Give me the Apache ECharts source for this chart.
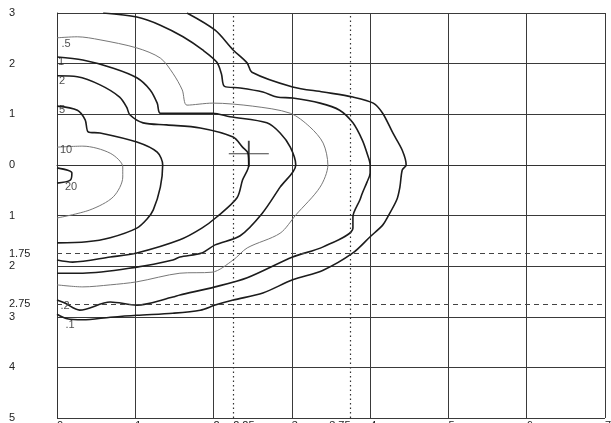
<!DOCTYPE html>
<html><head><meta charset="utf-8">
<script src="https://cdn.jsdelivr.net/npm/echarts@6/dist/echarts.min.js"></script>
<style>html,body{margin:0;padding:0;background:#fff}#c{width:611px;height:423px}</style>
</head><body><div id="c"></div>
<script>
// tick labels
const xTickLabels = [0, 1, 2, 2.25, 3, 4, 5, 6, 7];
const xTickLabelsRight = [3.75];
const yTickLabels = [3, 2, 1, 0, -1, -1.75, -2, -2.75, -3, -4, -5];
// reference lines
const refX = [2.25, 3.75];
const refY = [-1.75, -2.75];
// marked point (cross)
const crossPoint = [2.45, 0.22];

// contour levels
const levelNames = ['.1', '.2', '.5', '1', '2', '5', '10', '20'];
const c_01 = [[1.66,3.0],[2.02,2.66],[2.25,2.27],[2.43,2.01],[2.49,1.83],[3.01,1.54],[3.40,1.44],[3.78,1.34],[4.04,1.22],[4.16,1.02],[4.29,0.63],[4.41,0.29],[4.46,0],[4.41,-0.10],[4.38,-0.44],[4.34,-0.69],[4.22,-1.04],[4.16,-1.19],[4.00,-1.42],[3.78,-1.74],[3.40,-2.08],[3.01,-2.27],[2.63,-2.53],[2.25,-2.67],[2.02,-2.77],[1.83,-2.87],[1.48,-2.93],[1.02,-2.97],[0.68,-3.01],[0.33,-3.06],[0.13,-3.04],[0,-2.95]];
const c_02 = [[0.59,3.0],[1.02,2.92],[1.32,2.76],[1.61,2.53],[1.86,2.27],[2.04,2.03],[2.10,1.80],[2.14,1.55],[2.34,1.52],[2.63,1.44],[2.81,1.34],[3.01,1.32],[3.36,1.22],[3.61,1.08],[3.78,0.83],[3.90,0.49],[3.96,0.23],[4.00,0],[4.00,-0.16],[3.96,-0.34],[3.90,-0.56],[3.87,-0.69],[3.78,-1.03],[3.78,-1.25],[3.40,-1.62],[3.01,-1.82],[2.43,-2.23],[2.02,-2.41],[1.57,-2.57],[1.48,-2.61],[1.02,-2.77],[0.68,-2.71],[0.29,-2.87],[0.10,-2.73],[0,-2.67]];
const c_05 = [[0,2.51],[0.26,2.53],[0.55,2.47],[1.02,2.31],[1.32,2.11],[1.48,1.81],[1.60,1.48],[1.66,1.18],[1.99,1.22],[2.50,1.16],[2.98,1.02],[3.23,0.75],[3.40,0.43],[3.46,0],[3.36,-0.44],[3.05,-0.99],[2.85,-1.35],[2.43,-1.64],[2.25,-1.88],[1.98,-2.12],[1.57,-2.14],[1.02,-2.31],[0.68,-2.37],[0.33,-2.41],[0,-2.37]];
const c_1 = [[0,2.13],[0.33,2.07],[0.72,1.91],[1.02,1.72],[1.19,1.48],[1.28,1.22],[1.32,1.02],[1.61,1.02],[1.99,1.02],[2.21,0.95],[2.68,0.83],[2.85,0.63],[2.98,0.35],[3.05,0],[2.85,-0.44],[2.62,-0.96],[2.34,-1.40],[2.02,-1.58],[1.85,-1.74],[1.57,-1.82],[1.48,-1.88],[1.02,-2.02],[0.33,-2.14],[0,-2.14]];
const c_2 = [[0,1.76],[0.26,1.74],[0.55,1.58],[0.80,1.34],[0.89,1.14],[0.93,0.99],[1.10,0.83],[1.40,0.79],[1.83,0.73],[2.25,0.55],[2.37,0.35],[2.44,0.23],[2.45,0],[2.37,-0.30],[2.30,-0.65],[2.04,-1.03],[1.85,-1.25],[1.57,-1.48],[1.02,-1.74],[0.68,-1.82],[0.20,-1.92],[0,-1.88]];
const c_5 = [[0,1.16],[0.26,1.08],[0.36,0.89],[0.40,0.65],[0.55,0.63],[1.02,0.45],[1.28,0.25],[1.35,0],[1.32,-0.44],[1.23,-0.89],[1.15,-1.07],[1.02,-1.25],[0.68,-1.44],[0.38,-1.52],[0,-1.54]];
const c_10 = [[0,0.35],[0.33,0.37],[0.68,0.23],[0.84,-0.04],[0.84,-0.24],[0.72,-0.63],[0.42,-0.89],[0,-1.05]];
const c_20 = [[0,-0.06],[0.19,-0.16],[0.17,-0.30],[0,-0.36]];

const contours = [c_01, c_02, c_05, c_1, c_2, c_5, c_10, c_20];
// styling per level (not data)
const thin = {'.5': true, '10': true};
const labelAt = {'.1':'last','.2':'last','.5':'first','1':'first','2':'first','5':'first','10':'first','20':'last'};
const labelOffset = {'.1':[13,11],'.2':[8,6],'.5':[9,6],'1':[4,5],'2':[5,5],'5':[5,4],'10':[9,3],'20':[14,4]};

const series = contours.map((pts, i) => {
  const nm = levelNames[i];
  return {
    type: 'line', name: nm, data: pts, symbol: 'none', smooth: 0.3,
    silent: true, z: 3,
    lineStyle: thin[nm] ? {color: '#777', width: 1} : {color: '#1c1c1c', width: 1.6}
  };
});

series.push({
  type: 'scatter', name: 'labels', symbolSize: 1, silent: true, z: 4,
  itemStyle: {color: 'rgba(0,0,0,0)'},
  data: contours.map((pts, i) => {
    const nm = levelNames[i];
    const p = labelAt[nm] === 'first' ? pts[0] : pts[pts.length - 1];
    return {value: p, label: {show: true, position: 'inside', offset: labelOffset[nm],
      formatter: nm, color: '#222', fontSize: 11, fontFamily: 'Liberation Sans, Arial, sans-serif'}};
  }),
  markLine: {
    silent: true, symbol: 'none', label: {show: false}, animation: false,
    data: [
      ...refY.map(v => ({yAxis: v, lineStyle: {type: [5, 4], color: '#444', width: 1}})),
      ...refX.map(v => ({xAxis: v, lineStyle: {type: [1.5, 3], color: '#333', width: 1.2}}))
    ]
  }
});

series.push({
  type: 'scatter', name: 'cross', silent: true, z: 5,
  data: [crossPoint],
  symbol: 'path://M0,13L40,13M20,0L20,26',
  symbolSize: [40, 26],
  itemStyle: {color: 'rgba(0,0,0,0)', borderColor: '#111', borderWidth: 1.5}
});

const labelFont = {fontSize: 11, color: '#222', fontFamily: 'Liberation Sans, Arial, sans-serif'};

const chart = echarts.init(document.getElementById('c'), null, {renderer: 'canvas'});
chart.setOption({
  animation: false,
  backgroundColor: '#fff',
  grid: {left: 57, right: 6, top: 13, bottom: 5, containLabel: false, outerBoundsMode: 'none'},
  xAxis: [{
    type: 'value', min: 0, max: 7, interval: 1, position: 'bottom',
    axisLine: {show: true, lineStyle: {color: '#333', width: 1}},
    axisTick: {show: false},
    splitLine: {show: true, lineStyle: {color: '#3a3a3a', width: 1}},
    axisLabel: Object.assign({customValues: xTickLabels, align: 'left', verticalAlign: 'top', margin: 2,
      formatter: v => String(v)}, labelFont)
  }, {
    type: 'value', min: 0, max: 7, position: 'bottom',
    axisLine: {show: false}, axisTick: {show: false}, splitLine: {show: false},
    axisLabel: Object.assign({customValues: xTickLabelsRight, align: 'right', verticalAlign: 'top', margin: 2,
      formatter: v => String(v)}, labelFont)
  }],
  yAxis: {
    type: 'value', min: -5, max: 3, interval: 1,
    axisLine: {show: true, lineStyle: {color: '#333', width: 1}},
    axisTick: {show: false},
    splitLine: {show: true, lineStyle: {color: '#3a3a3a', width: 1}},
    axisLabel: Object.assign({customValues: yTickLabels, align: 'left', margin: 48,
      formatter: v => String(Math.abs(v))}, labelFont)
  },
  series: series
});
</script>
</body></html>
